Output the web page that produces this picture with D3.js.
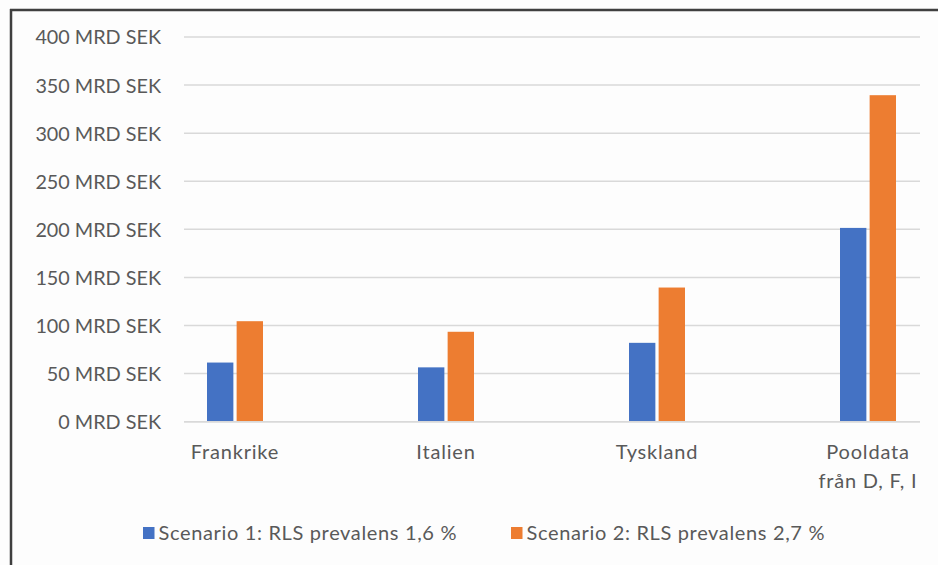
<!DOCTYPE html>
<html>
<head>
<meta charset="utf-8">
<script src="https://cdn.jsdelivr.net/npm/d3@7"></script>
<style>
  html, body { margin: 0; padding: 0; background: #fff; }
  svg { display: block; }
  text { font-family: Lato, "Open Sans", sans-serif; fill: #595959; }
</style>
</head>
<body>
<svg id="chart" width="938" height="565"></svg>
<script>
// Category labels (multi-line labels split on "\n")
const categories = ["Frankrike", "Italien", "Tyskland", "Pooldata\nfrån D, F, I"];
// Cost estimates, billion SEK
const scenario1 = [61.5, 56.5, 82, 201.5];
const scenario2 = [104.5, 93.5, 139.5, 339.5];
const seriesNames = ["Scenario 1: RLS prevalens 1,6 %", "Scenario 2: RLS prevalens 2,7 %"];
const seriesColors = ["#4472c4", "#ed7d31"];
const yTicks = [0, 50, 100, 150, 200, 250, 300, 350, 400];
const tickLabel = v => `${v} MRD SEK`;

const svg = d3.select("#chart");

// frame (top and left edges of the chart box)
svg.append("rect").attr("x", 0).attr("y", 0).attr("width", 938).attr("height", 565).attr("fill", "#fdfdfd");
svg.append("line").attr("x1", 10).attr("x2", 938).attr("y1", 10).attr("y2", 10)
  .attr("stroke", "#3f3f3f").attr("stroke-width", 2.5);
svg.append("line").attr("x1", 11).attr("x2", 11).attr("y1", 9).attr("y2", 565)
  .attr("stroke", "#3f3f3f").attr("stroke-width", 2.5);

const gridLeft = 184, gridRight = 920;
const y = d3.scaleLinear().domain([0, 400]).range([421.7, 37]);
const x = d3.scaleBand().domain(categories).range([129.5, 973.5]).paddingInner(0).paddingOuter(0);
const xSub = d3.scaleBand().domain([0, 1]).range([0, 56]).paddingInner(0.11);
const barOffset = (x.bandwidth() - 56) / 2;

// horizontal gridlines
svg.append("g").selectAll("line").data(yTicks).join("line")
  .attr("x1", gridLeft).attr("x2", gridRight)
  .attr("y1", d => y(d)).attr("y2", d => y(d))
  .attr("stroke", "#d9d9d9").attr("stroke-width", 1.5);

// y axis labels
const yAxis = d3.axisLeft(y).tickValues(yTicks).tickFormat(tickLabel).tickSize(0).tickPadding(0);
const yg = svg.append("g").attr("transform", `translate(161,0)`).call(yAxis);
yg.select(".domain").remove();
yg.selectAll("text").attr("font-size", 19.8).attr("fill", "#595959")
  .style("font-family", "Lato, 'Open Sans', sans-serif").attr("dy", "0.35em");

// bars
const series = [scenario1, scenario2];
const groups = svg.append("g").selectAll("g").data(categories).join("g")
  .attr("transform", d => `translate(${x(d) + barOffset},0)`);
groups.selectAll("rect").data((d, i) => series.map((s, k) => ({ k, v: s[i] }))).join("rect")
  .attr("x", d => xSub(d.k)).attr("width", xSub.bandwidth())
  .attr("y", d => y(d.v)).attr("height", d => y(0) - y(d.v))
  .attr("fill", d => seriesColors[d.k]);

// redraw baseline over bars
svg.append("line").attr("x1", gridLeft).attr("x2", gridRight)
  .attr("y1", y(0)).attr("y2", y(0)).attr("stroke", "#d9d9d9").attr("stroke-width", 1.5);

// category labels
const xl = svg.append("g").selectAll("text").data(categories).join("text")
  .attr("x", d => x(d) + x.bandwidth() / 2)
  .attr("y", 459)
  .attr("text-anchor", "middle").attr("font-size", 20).attr("letter-spacing", 0.8);
xl.selectAll("tspan").data(d => d.split("\n")).join("tspan")
  .attr("x", function () { return d3.select(this.parentNode).attr("x"); })
  .attr("dy", (d, i) => i === 0 ? 0 : 29)
  .text(d => d);

// legend
const legendX = [143, 511];
const lg = svg.append("g").selectAll("g").data(seriesNames).join("g")
  .attr("transform", (d, i) => `translate(${legendX[i]},533)`);
lg.append("rect").attr("x", 0).attr("y", -6).attr("width", 11.5).attr("height", 12)
  .attr("fill", (d, i) => seriesColors[i]);
lg.append("text").attr("x", 15.5).attr("y", 0).attr("dy", "0.35em")
  .attr("font-size", 20).attr("letter-spacing", 0.65).text(d => d);
</script>
</body>
</html>
